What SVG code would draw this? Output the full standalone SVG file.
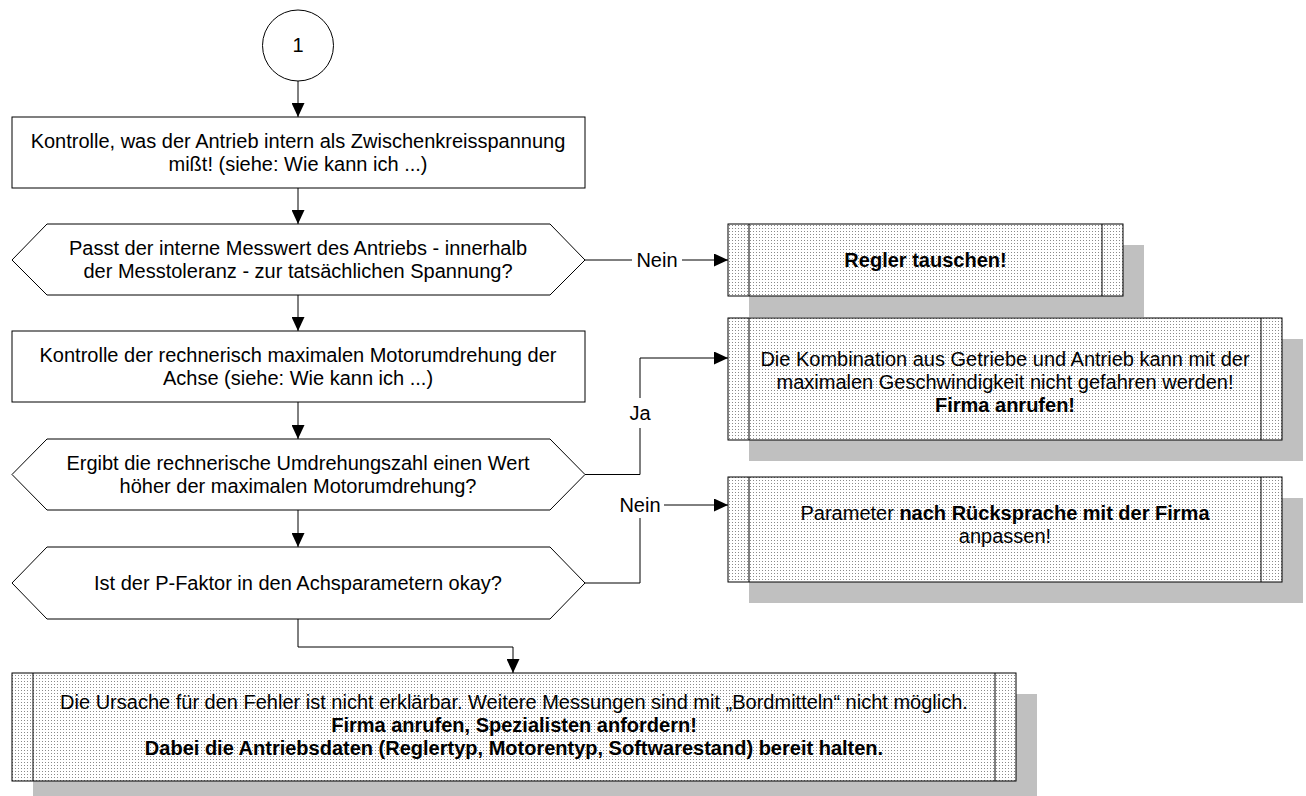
<svg xmlns="http://www.w3.org/2000/svg" width="1306" height="796" viewBox="0 0 1306 796">
<defs>
<pattern id="dots" width="3" height="3" patternUnits="userSpaceOnUse">
<rect width="3" height="3" fill="#ffffff"/>
<rect width="1" height="1" fill="#8a8a8a"/>
</pattern>
<marker id="arr" markerUnits="userSpaceOnUse" markerWidth="14" markerHeight="13" refX="14" refY="6.5" orient="auto">
<path d="M0,0 L14,6.5 L0,13 z" fill="#000"/>
</marker>
</defs>
<style>
text{font-family:"Liberation Sans",Arial,sans-serif;font-size:20px;fill:#000;text-anchor:middle}
.b{font-weight:bold}
.w{fill:#fff;stroke:#000;stroke-width:1}
.p{fill:url(#dots);stroke:#000;stroke-width:1}
.sh{fill:#c0c0c0;stroke:none}
.ln{fill:none;stroke:#000;stroke-width:1}
.c{fill:none;stroke:#000;stroke-width:1}
</style>
<g id="connectors">
<line class="c" x1="298" y1="81" x2="298" y2="117" marker-end="url(#arr)"/>
<line class="c" x1="298" y1="188" x2="298" y2="224" marker-end="url(#arr)"/>
<line class="c" x1="298" y1="295" x2="298" y2="331" marker-end="url(#arr)"/>
<line class="c" x1="298" y1="402" x2="298" y2="439" marker-end="url(#arr)"/>
<line class="c" x1="298" y1="510" x2="298" y2="547" marker-end="url(#arr)"/>
<polyline class="c" points="298,619 298,647 513,647 513,673" marker-end="url(#arr)"/>
<line class="c" x1="585" y1="260" x2="632" y2="260"/>
<line class="c" x1="682" y1="260" x2="728" y2="260" marker-end="url(#arr)"/>
<text x="657" y="267">Nein</text>
<polyline class="c" points="585,474.5 640,474.5 640,428"/>
<polyline class="c" points="640,398 640,358 728,358" marker-end="url(#arr)"/>
<text x="640" y="420">Ja</text>
<polyline class="c" points="585,583 640,583 640,518"/>
<line class="c" x1="664" y1="505" x2="728" y2="505" marker-end="url(#arr)"/>
<text x="640" y="512">Nein</text>
</g>
<g id="start">
<circle class="w" cx="298" cy="45.5" r="35.5"/>
<text x="298" y="52">1</text>
</g>
<g id="box1">
<rect class="w" x="12" y="117" width="573" height="71"/>
<text x="298" y="148">Kontrolle, was der Antrieb intern als Zwischenkreisspannung</text>
<text x="298" y="171">mißt! (siehe: Wie kann ich ...)</text>
</g>
<g id="dec1">
<polygon class="w" points="12,260 47,224 550,224 585,260 550,295 47,295"/>
<text x="298" y="255">Passt der interne Messwert des Antriebs - innerhalb</text>
<text x="298" y="278">der Messtoleranz - zur tatsächlichen Spannung?</text>
</g>
<g id="regler">
<rect class="sh" x="749" y="245" width="395" height="72"/>
<rect class="p" x="728" y="224" width="395" height="72"/>
<line class="ln" x1="749" y1="224" x2="749" y2="296"/>
<line class="ln" x1="1102" y1="224" x2="1102" y2="296"/>
<text class="b" x="925.5" y="267">Regler tauschen!</text>
</g>
<g id="box2">
<rect class="w" x="12" y="331" width="573" height="71"/>
<text x="298" y="362">Kontrolle der rechnerisch maximalen Motorumdrehung der</text>
<text x="298" y="385">Achse (siehe: Wie kann ich ...)</text>
</g>
<g id="dec2">
<polygon class="w" points="12,474.5 47,439 550,439 585,474.5 550,510 47,510"/>
<text x="298" y="470">Ergibt die rechnerische Umdrehungszahl einen Wert</text>
<text x="298" y="493">höher der maximalen Motorumdrehung?</text>
</g>
<g id="kombination">
<rect class="sh" x="749" y="339" width="554" height="122"/>
<rect class="p" x="728" y="318" width="554" height="122"/>
<line class="ln" x1="749" y1="318" x2="749" y2="440"/>
<line class="ln" x1="1261" y1="318" x2="1261" y2="440"/>
<text x="1005" y="366">Die Kombination aus Getriebe und Antrieb kann mit der</text>
<text x="1005" y="389">maximalen Geschwindigkeit nicht gefahren werden!</text>
<text class="b" x="1005" y="412">Firma anrufen!</text>
</g>
<g id="dec3">
<polygon class="w" points="12,583 47,547 550,547 585,583 550,619 47,619"/>
<text x="298" y="590">Ist der P-Faktor in den Achsparametern okay?</text>
</g>
<g id="parameter">
<rect class="sh" x="749" y="498" width="554" height="105"/>
<rect class="p" x="728" y="477" width="554" height="105"/>
<line class="ln" x1="749" y1="477" x2="749" y2="582"/>
<line class="ln" x1="1261" y1="477" x2="1261" y2="582"/>
<text x="1005" y="520">Parameter <tspan class="b">nach Rücksprache mit der Firma</tspan></text>
<text x="1005" y="543">anpassen!</text>
</g>
<g id="final">
<rect class="sh" x="33" y="694" width="1004" height="108"/>
<rect class="p" x="12" y="673" width="1004" height="108"/>
<line class="ln" x1="33" y1="673" x2="33" y2="781"/>
<line class="ln" x1="995" y1="673" x2="995" y2="781"/>
<text x="514" y="709">Die Ursache für den Fehler ist nicht erklärbar. Weitere Messungen sind mit „Bordmitteln“ nicht möglich.</text>
<text class="b" x="514" y="732">Firma anrufen, Spezialisten anfordern!</text>
<text class="b" x="514" y="755">Dabei die Antriebsdaten (Reglertyp, Motorentyp, Softwarestand) bereit halten.</text>
</g>
</svg>
